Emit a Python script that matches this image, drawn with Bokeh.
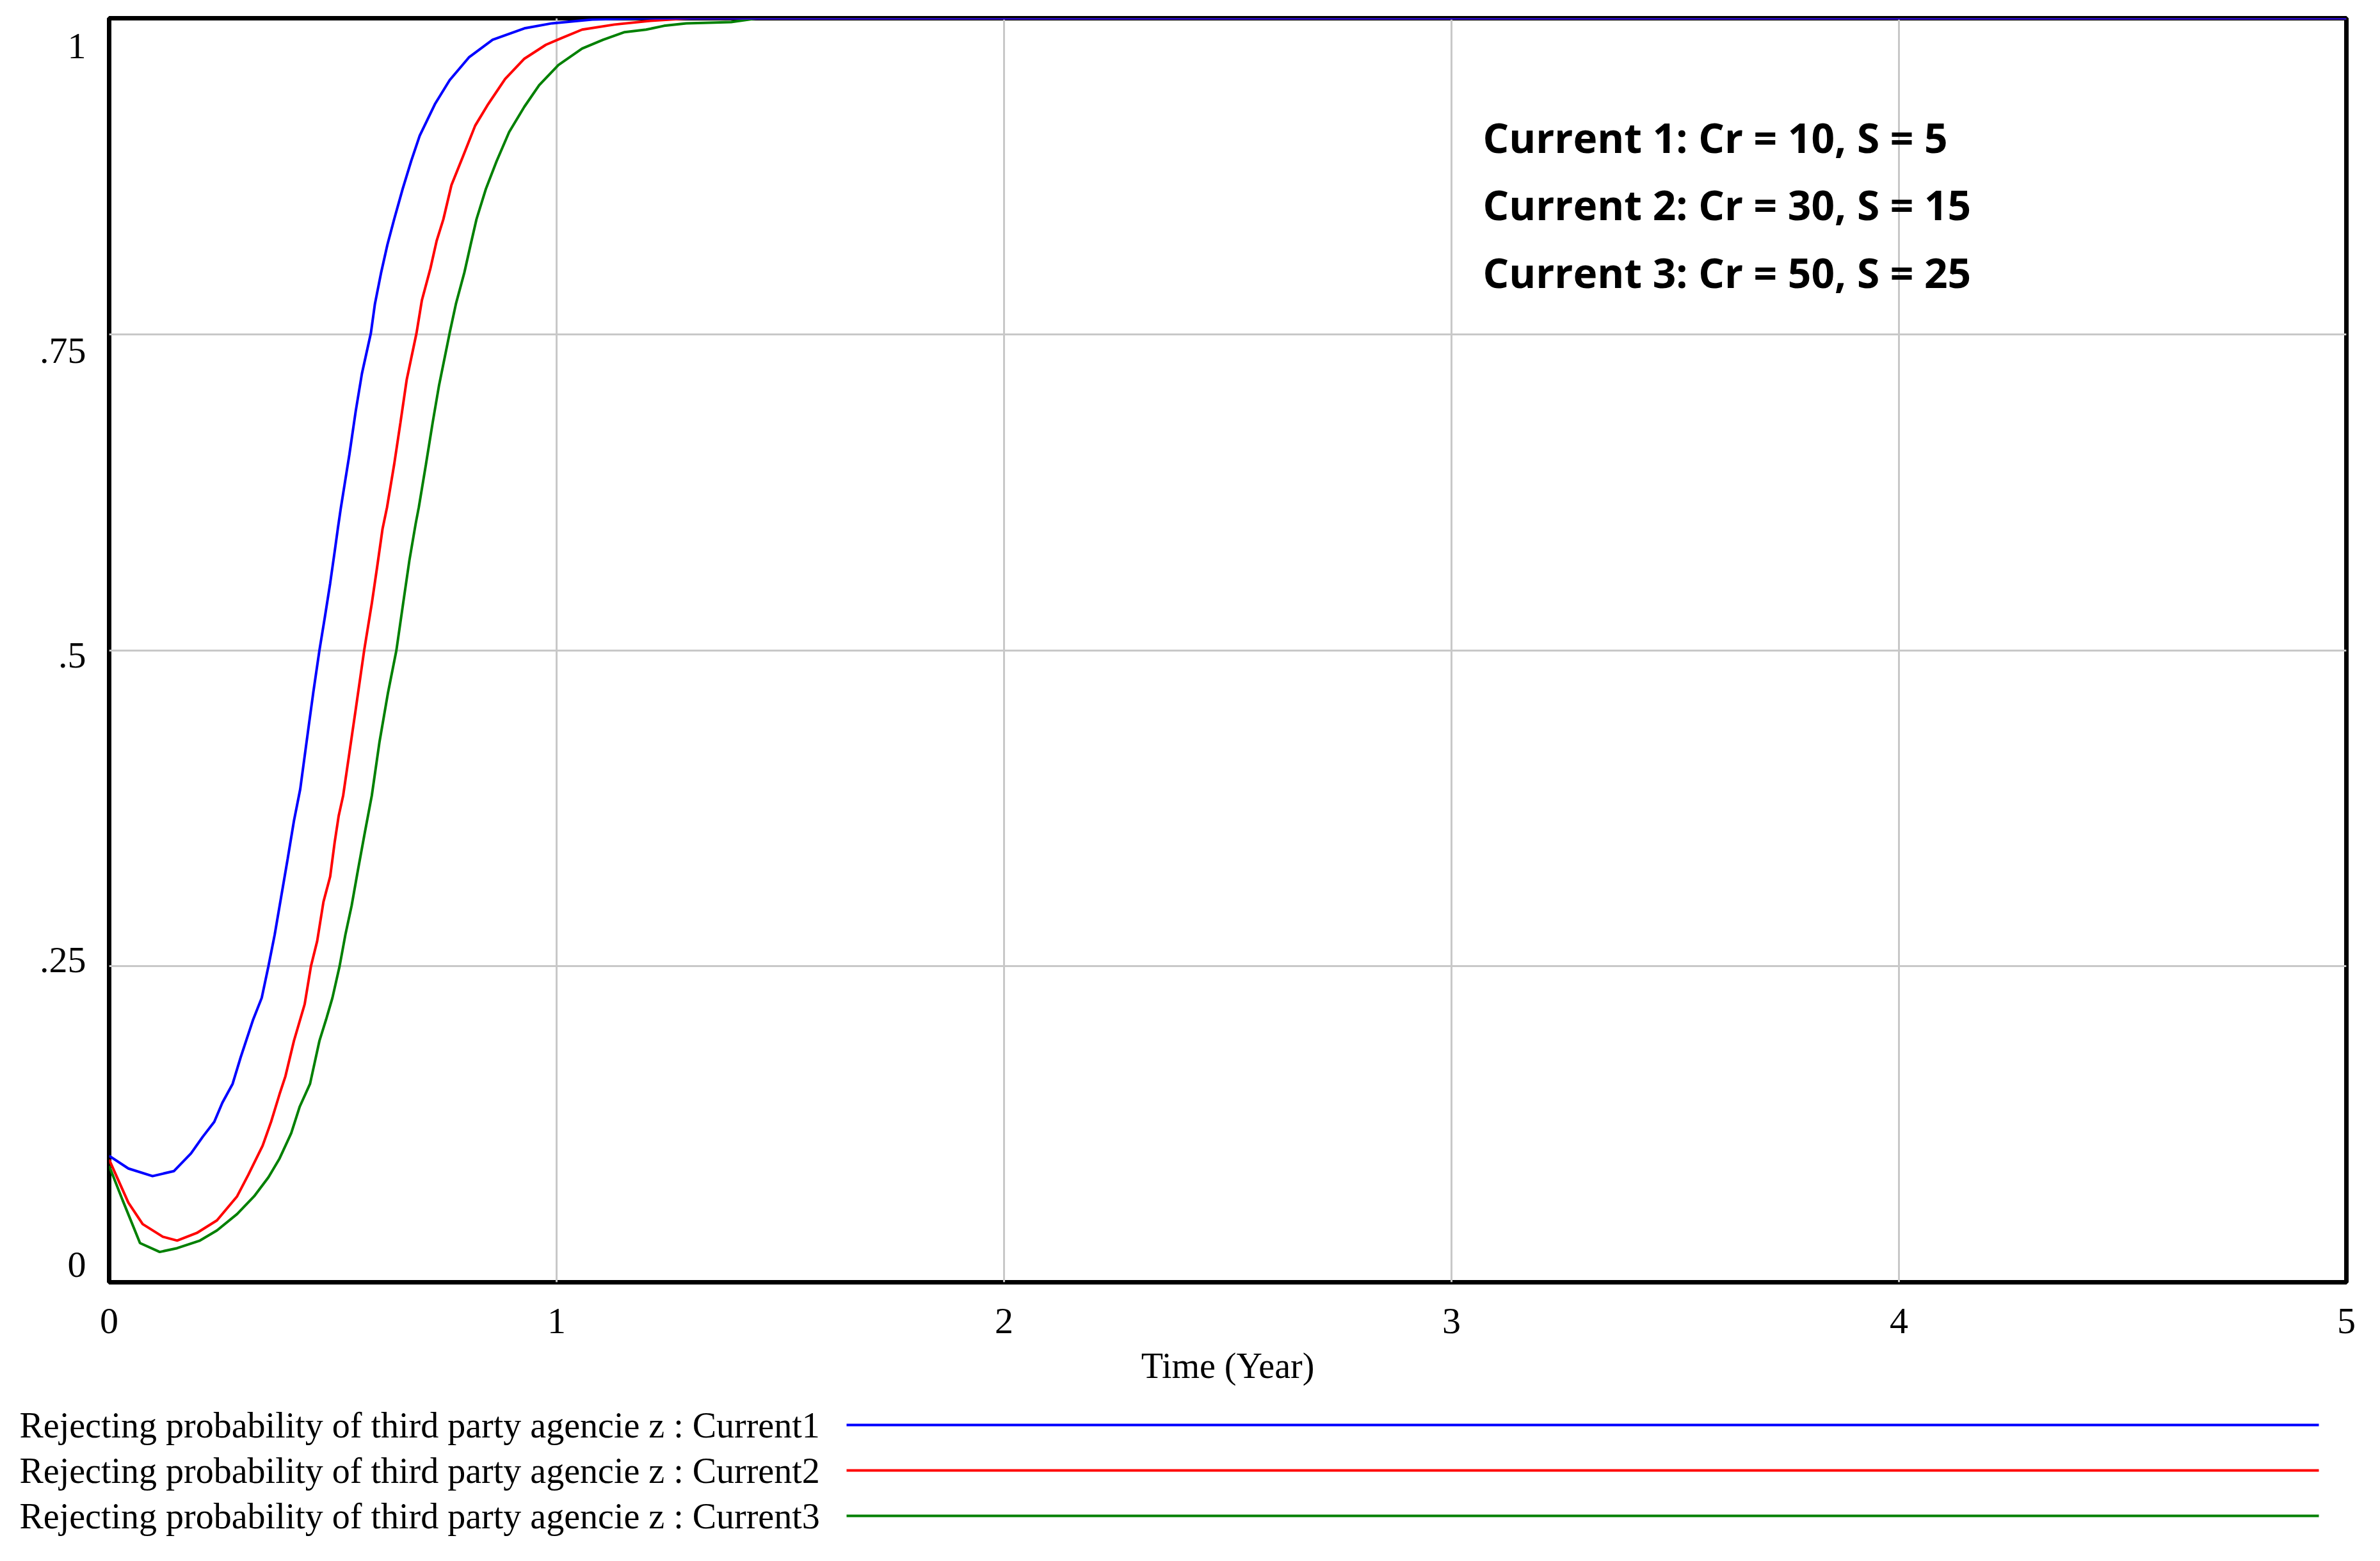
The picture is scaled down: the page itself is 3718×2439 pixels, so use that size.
from bokeh.plotting import figure
from bokeh.models import Range1d, FixedTicker, CustomJSTickFormatter, Label
from bokeh.layouts import column
from bokeh.embed import file_html
from bokeh.resources import INLINE
from bokeh.core.properties import value

# ---------------- data ----------------
t_current1 = [0, 0.043, 0.097, 0.145, 0.183, 0.209, 0.235, 0.253, 0.276, 0.294, 0.322, 0.341,
              0.356, 0.370, 0.384, 0.399, 0.413, 0.427, 0.446, 0.456, 0.470, 0.482, 0.494, 0.504,
              0.511, 0.518, 0.537, 0.551, 0.565, 0.585, 0.594, 0.608, 0.622, 0.637, 0.656, 0.675,
              0.694, 0.728, 0.761, 0.804, 0.857, 0.928, 0.990, 1.08, 1.2, 5]
v_current1 = [0.100, 0.090, 0.084, 0.088, 0.102, 0.115, 0.127, 0.142, 0.157, 0.178, 0.208, 0.225,
              0.250, 0.275, 0.304, 0.335, 0.365, 0.390, 0.440, 0.466, 0.500, 0.526, 0.553, 0.578,
              0.596, 0.613, 0.655, 0.689, 0.719, 0.751, 0.774, 0.799, 0.821, 0.841, 0.865, 0.887,
              0.907, 0.932, 0.951, 0.969, 0.983, 0.992, 0.996, 0.999, 1.0, 1.0]

t_current2 = [0, 0.043, 0.075, 0.120, 0.152, 0.196, 0.241, 0.286, 0.311, 0.343, 0.362, 0.381,
              0.394, 0.413, 0.437, 0.451, 0.465, 0.479, 0.494, 0.504, 0.513, 0.523, 0.537, 0.551,
              0.570, 0.587, 0.599, 0.611, 0.621, 0.637, 0.651, 0.665, 0.687, 0.699, 0.718, 0.732,
              0.747, 0.765, 0.790, 0.818, 0.847, 0.885, 0.928, 0.976, 1.009, 1.057, 1.129, 1.21,
              1.3, 5]
v_current2 = [0.097, 0.063, 0.046, 0.036, 0.033, 0.039, 0.049, 0.068, 0.085, 0.108, 0.127, 0.149,
              0.163, 0.191, 0.220, 0.250, 0.270, 0.301, 0.321, 0.348, 0.369, 0.385, 0.419, 0.453,
              0.500, 0.537, 0.566, 0.596, 0.613, 0.647, 0.680, 0.714, 0.751, 0.777, 0.802, 0.824,
              0.841, 0.868, 0.890, 0.915, 0.932, 0.952, 0.968, 0.979, 0.984, 0.991, 0.995, 0.998,
              1.0, 1.0]

t_current3 = [0, 0.030, 0.069, 0.113, 0.152, 0.203, 0.241, 0.286, 0.324, 0.356, 0.381, 0.407,
              0.426, 0.449, 0.470, 0.485, 0.499, 0.515, 0.528, 0.542, 0.556, 0.571, 0.587, 0.604,
              0.623, 0.642, 0.657, 0.671, 0.685, 0.692, 0.708, 0.723, 0.737, 0.761, 0.775, 0.794,
              0.808, 0.821, 0.842, 0.866, 0.894, 0.928, 0.961, 1.004, 1.057, 1.104, 1.152, 1.20,
              1.24, 1.29, 1.39, 1.45, 5]
v_current3 = [0.092, 0.065, 0.031, 0.024, 0.027, 0.033, 0.041, 0.054, 0.068, 0.083, 0.098, 0.118,
              0.139, 0.157, 0.191, 0.208, 0.225, 0.250, 0.275, 0.298, 0.326, 0.355, 0.385, 0.427,
              0.466, 0.500, 0.537, 0.571, 0.600, 0.613, 0.647, 0.680, 0.709, 0.751, 0.774, 0.799,
              0.821, 0.841, 0.865, 0.887, 0.910, 0.930, 0.947, 0.963, 0.976, 0.983, 0.989, 0.991,
              0.994, 0.996, 0.997, 1.0, 1.0]

x_ticks = [0, 1, 2, 3, 4, 5]
y_tick_labels = ["0", ".25", ".5", ".75", "1"]
legend_labels = [
    "Rejecting probability of third party agencie z : Current1",
    "Rejecting probability of third party agencie z : Current2",
    "Rejecting probability of third party agencie z : Current3",
]
annotation_lines = [
    "Current 1: Cr = 10, S = 5",
    "Current 2: Cr = 30, S = 15",
    "Current 3: Cr = 50, S = 25",
]
x_label = "Time (Year)"

# ---------------- style / layout ----------------
colors = ["#0000ff", "#ff0000", "#008000"]
SERIF = "Liberation Serif"
SANS = "Open Sans"
W = 3700
MAIN_H = 2180
LEG_H = 240
FRAME_L = 170
FRAME_R = 35

p = figure(width=W, height=MAIN_H, output_backend="svg", toolbar_location=None,
           x_range=Range1d(0, 5), y_range=Range1d(0, 1),
           min_border_left=FRAME_L, min_border_right=FRAME_R, min_border_top=28, min_border_bottom=177)
p.background_fill_color = "white"
p.border_fill_color = "white"
p.outline_line_color = "black"
p.outline_line_width = 7

# grid
p.xgrid.ticker = FixedTicker(ticks=x_ticks[1:-1])
p.ygrid.ticker = FixedTicker(ticks=[0.25, 0.5, 0.75])
for g in (p.xgrid, p.ygrid):
    g.grid_line_color = "#c8c8c8"
    g.grid_line_width = 3

# x axis
p.xaxis.ticker = FixedTicker(ticks=x_ticks)
p.xaxis.axis_line_color = None
p.xaxis.major_tick_line_color = None
p.xaxis.minor_tick_line_color = None
p.xaxis.major_label_text_font = SERIF
p.xaxis.major_label_text_font_size = "58px"
p.xaxis.major_label_text_color = "black"
p.xaxis.major_label_standoff = 35
p.xaxis.axis_label = x_label
p.xaxis.axis_label_text_font = SERIF
p.xaxis.axis_label_text_font_size = "56px"
p.xaxis.axis_label_text_font_style = "normal"
p.xaxis.axis_label_text_color = "black"
p.xaxis.axis_label_standoff = 17

# y axis: labels inset from the frame ends as in the reference
inset = 0.018
shift = -0.004
n_lab = len(y_tick_labels)
y_label_pos = [inset + shift + i * (1 - 2 * inset) / (n_lab - 1) for i in range(n_lab)]
p.yaxis.ticker = FixedTicker(ticks=y_label_pos)
p.yaxis.formatter = CustomJSTickFormatter(args=dict(labels=y_tick_labels), code="return labels[index];")
p.yaxis.axis_line_color = None
p.yaxis.major_tick_line_color = None
p.yaxis.minor_tick_line_color = None
p.yaxis.major_label_text_font = SERIF
p.yaxis.major_label_text_font_size = "58px"
p.yaxis.major_label_text_color = "black"
p.yaxis.major_label_standoff = 30

# curves (drawn so that Current1 ends on top)
series = [(t_current1, v_current1), (t_current2, v_current2), (t_current3, v_current3)]
for i in [2, 1, 0]:
    t, v = series[i]
    p.line(t, v, line_color=colors[i], line_width=4)

# annotation text
anno_x = 3.07
anno_y0 = 0.906
anno_step = 0.0535
for i, txt in enumerate(annotation_lines):
    p.add_layout(Label(x=anno_x, y=anno_y0 - i * anno_step, text=txt,
                       text_font=SANS, text_font_style="bold", text_font_size="64px",
                       text_color="black", text_baseline="middle", text_align="left"))

# ---------------- legend strip (own frame spanning the whole strip; x in page pixels) ----------------
leg = figure(width=W, height=LEG_H, output_backend="svg", toolbar_location=None,
             x_range=Range1d(0, W), y_range=Range1d(LEG_H, 0),
             min_border=0, min_border_left=0, min_border_right=0,
             min_border_top=0, min_border_bottom=0,
             x_axis_location=None, y_axis_location=None)
leg.frame_align = False
leg.grid.visible = False
leg.outline_line_color = None
leg.background_fill_color = "white"
leg.border_fill_color = "white"

row_y0 = 46
row_step = 71
text_x = 30
line_x0 = 1322
line_x1 = 3622
rows = [row_y0 + i * row_step for i in range(len(legend_labels))]
leg.text(x=[text_x] * len(rows), y=rows, text=legend_labels,
         text_font=value(SERIF), text_font_size="56px", text_color="black",
         text_baseline="middle", text_align="left")
leg.segment(x0=[line_x0] * len(rows), x1=[line_x1] * len(rows), y0=rows, y1=rows,
            line_color=colors, line_width=4)

layout = column(p, leg, spacing=0)
open("out.html", "w").write(file_html(layout, INLINE))
